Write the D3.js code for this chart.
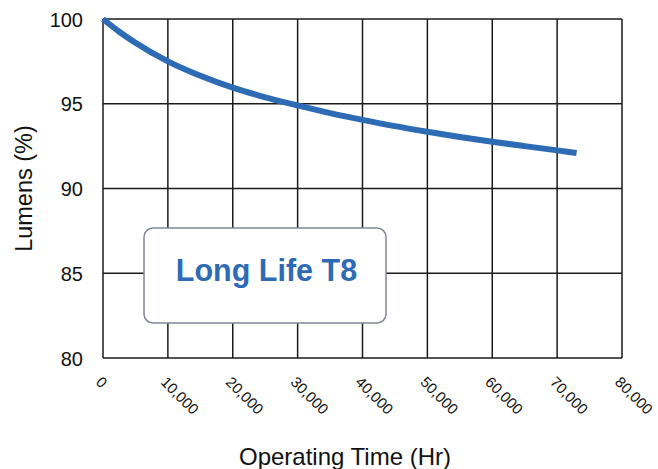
<!DOCTYPE html>
<html>
<head>
<meta charset="utf-8">
<script src="https://cdn.jsdelivr.net/npm/d3@7"></script>
<style>
  body { margin: 0; background: #fff; }
  text { font-family: "Liberation Sans", Arial, sans-serif; }
</style>
</head>
<body>
<svg id="chart" width="658" height="469"></svg>
<script>
// lumen maintenance curve
const hours = [0, 2500, 5000, 10000, 15000, 20000, 25000, 30000, 35000, 40000, 45000, 50000, 55000, 60000, 65000, 70000, 73000];
const lumens = [100, 99.25, 98.6, 97.5, 96.65, 95.95, 95.38, 94.9, 94.45, 94.05, 93.68, 93.35, 93.04, 92.76, 92.5, 92.25, 92.1];
const xTicks = [0, 10000, 20000, 30000, 40000, 50000, 60000, 70000, 80000];
const yTicks = [80, 85, 90, 95, 100];
const label = "Long Life T8";

const svg = d3.select("#chart");
const margin = {left: 103, right: 36, top: 19, bottom: 111};
const width = 658, height = 469;

const x = d3.scaleLinear().domain([0, 80000]).range([margin.left, width - margin.right]);
const y = d3.scaleLinear().domain([80, 100]).range([height - margin.bottom, margin.top]);

// grid
svg.append("g").selectAll("line")
    .data(xTicks)
    .join("line")
    .attr("x1", d => x(d)).attr("x2", d => x(d))
    .attr("y1", y(100)).attr("y2", y(80))
    .attr("stroke", "#1a1a1a").attr("stroke-width", 1.5);

svg.append("g").selectAll("line")
    .data(yTicks)
    .join("line")
    .attr("x1", x(0)).attr("x2", x(80000))
    .attr("y1", d => y(d)).attr("y2", d => y(d))
    .attr("stroke", "#1a1a1a").attr("stroke-width", 1.5);

// y tick labels
svg.append("g").selectAll("text")
    .data(yTicks)
    .join("text")
    .attr("x", x(0) - 20)
    .attr("y", d => y(d) + 7.5)
    .attr("text-anchor", "end")
    .attr("font-size", 20)
    .attr("fill", "#111")
    .text(d => d);

// x tick labels, rotated
const fmt = d3.format(",");
svg.append("g").selectAll("text")
    .data(xTicks)
    .join("text")
    .attr("transform", d => `translate(${x(d) - 8},${y(80) + 25}) rotate(45)`)
    .attr("font-size", 15)
    .attr("fill", "#111")
    .text(d => fmt(d));

// axis titles
svg.append("text")
    .attr("transform", `translate(32,${(y(80) + y(100)) / 2}) rotate(-90)`)
    .attr("text-anchor", "middle")
    .attr("font-size", 23.5)
    .attr("fill", "#111")
    .text("Lumens (%)");

svg.append("text")
    .attr("x", 345)
    .attr("y", 465)
    .attr("text-anchor", "middle")
    .attr("font-size", 24)
    .attr("fill", "#111")
    .text("Operating Time (Hr)");

// curve
const pts = hours.map((h, i) => [h, lumens[i]]);
svg.append("path")
    .datum(pts)
    .attr("fill", "none")
    .attr("stroke", "#2e6bb5")
    .attr("stroke-width", 6)
    .attr("d", d3.line().x(d => x(d[0])).y(d => y(d[1])).curve(d3.curveMonotoneX));

// label box
svg.append("rect")
    .attr("x", 144).attr("y", 228)
    .attr("width", 242).attr("height", 95)
    .attr("rx", 9)
    .attr("fill", "#fff")
    .attr("stroke", "#808894")
    .attr("stroke-width", 1.5);

svg.append("text")
    .attr("x", 266.5)
    .attr("y", 281)
    .attr("text-anchor", "middle")
    .attr("font-size", 30.5)
    .attr("font-weight", "bold")
    .attr("fill", "#2e6bb5")
    .text(label);
</script>
</body>
</html>
